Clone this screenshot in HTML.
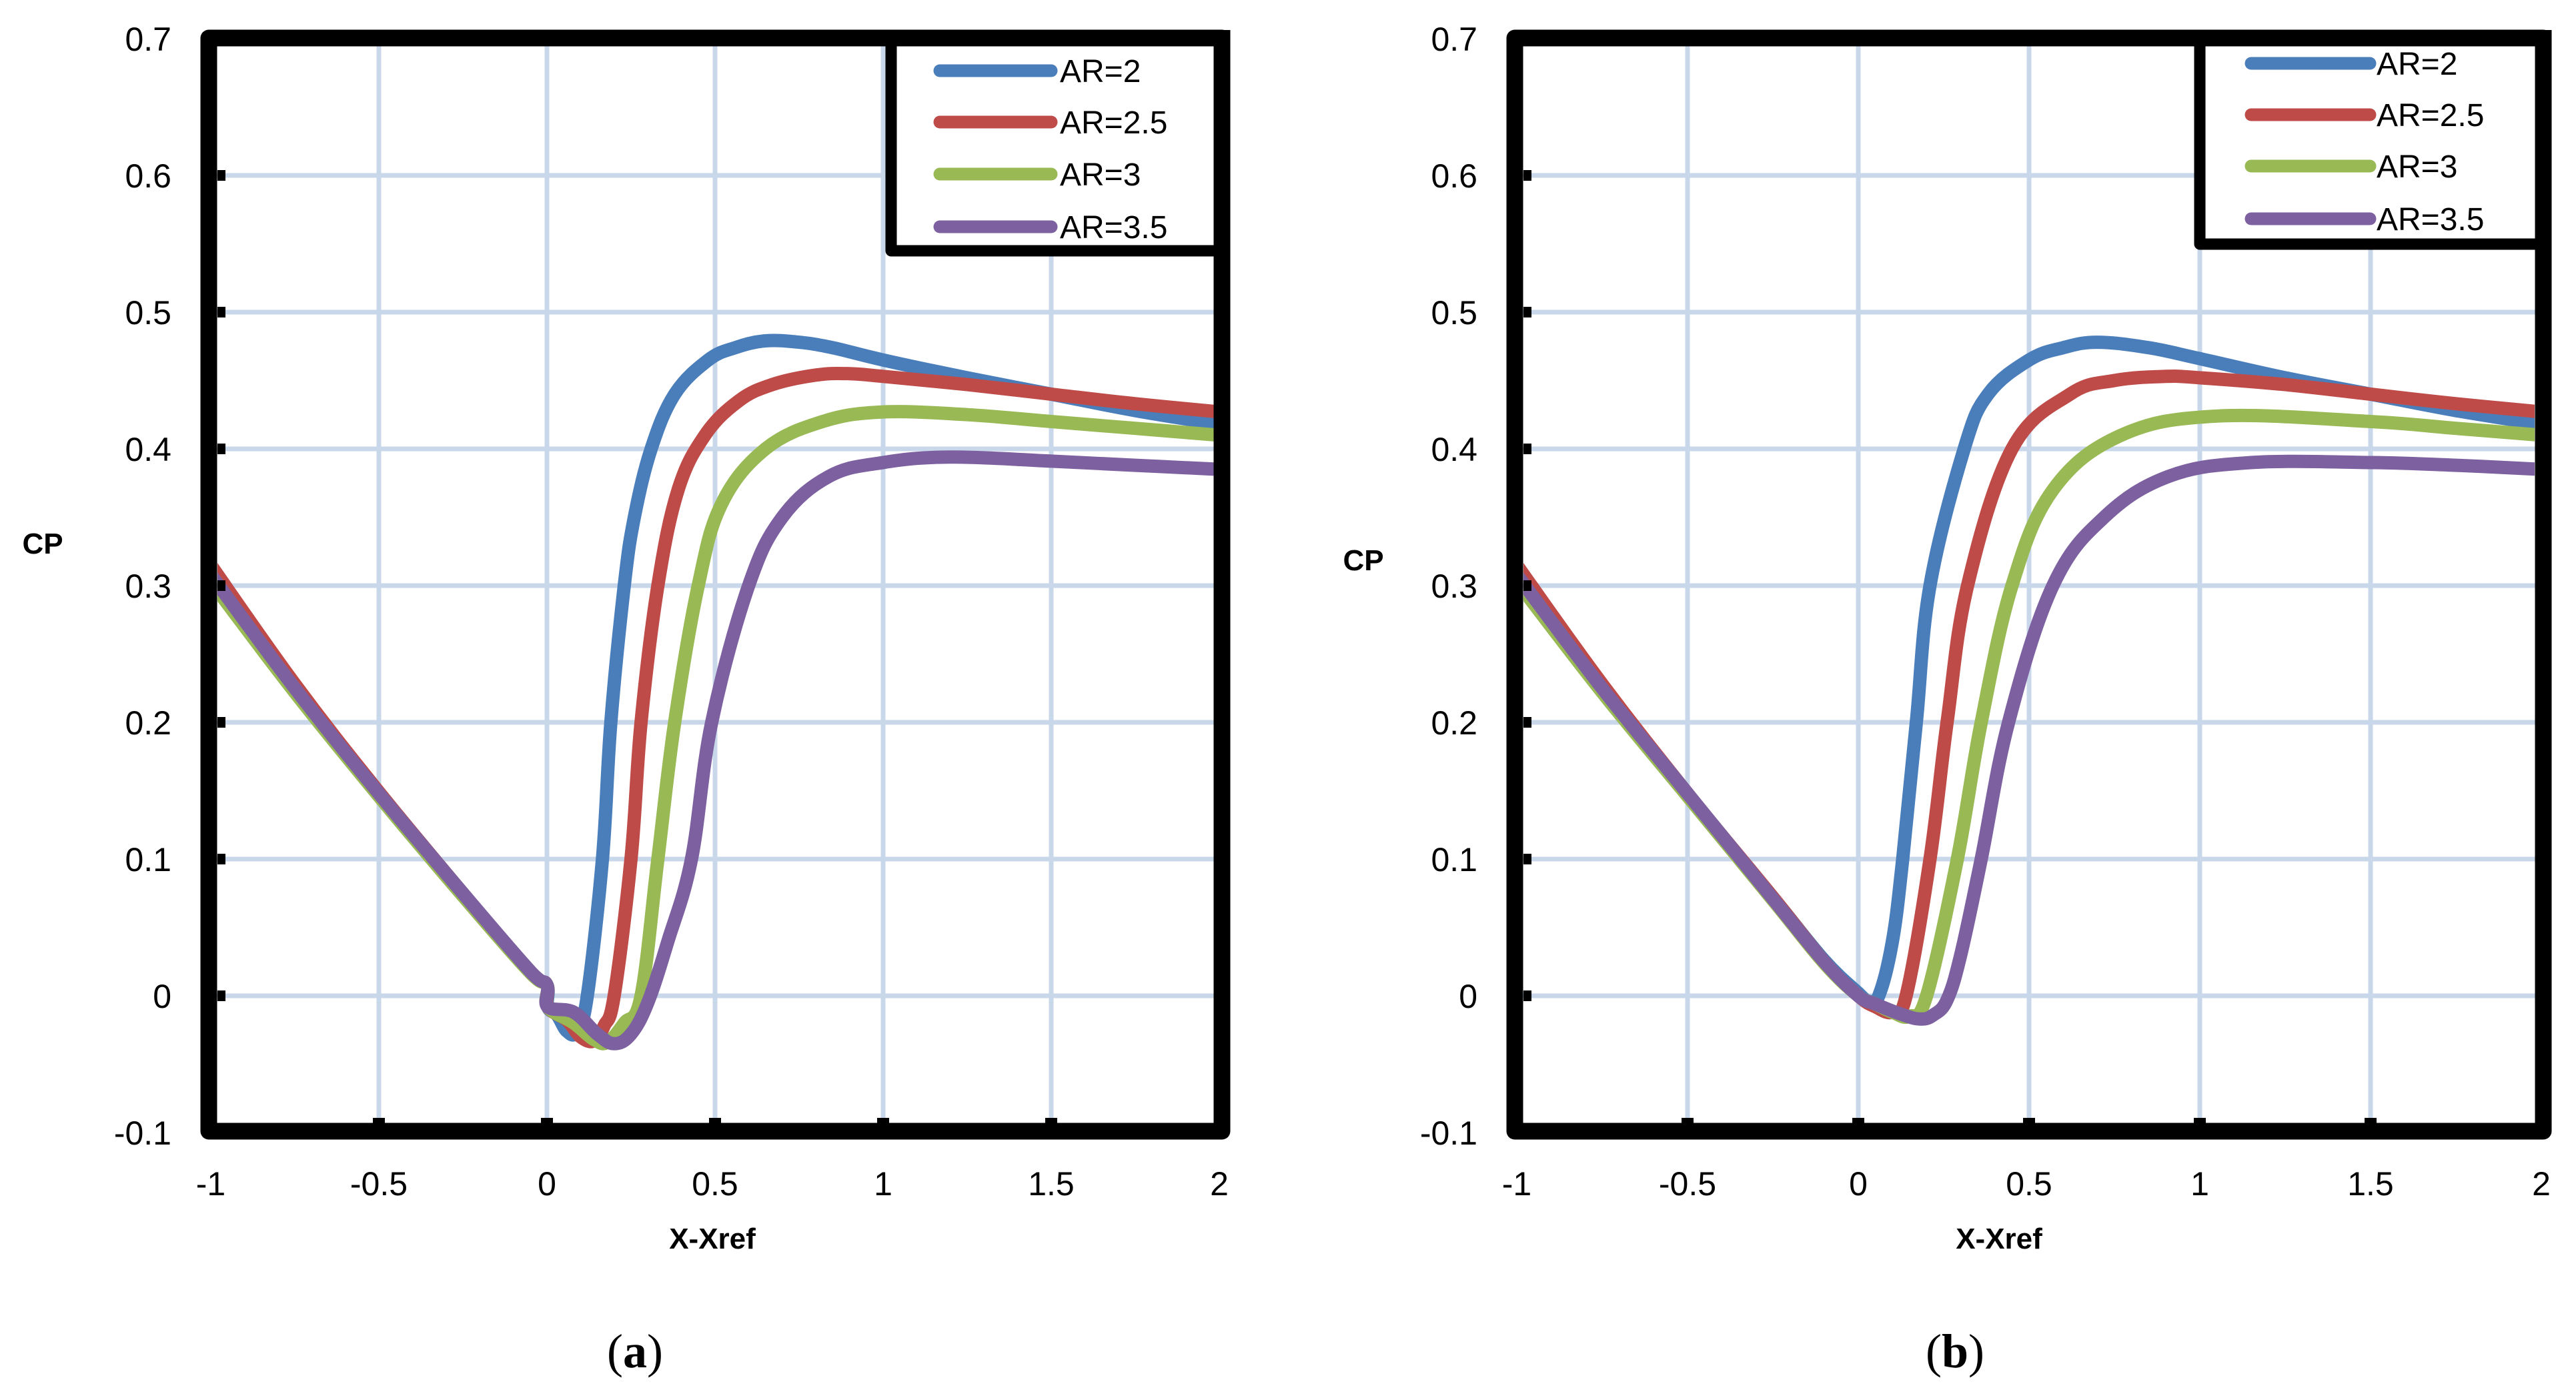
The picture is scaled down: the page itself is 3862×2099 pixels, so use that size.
<!DOCTYPE html>
<html><head><meta charset="utf-8"><style>
html,body{margin:0;padding:0;background:#fff;}
svg{display:block;}
text{font-family:"Liberation Sans",sans-serif;fill:#000;}
</style></head><body>
<svg id="fig" width="3862" height="2099" viewBox="0 0 3862 2099" xmlns="http://www.w3.org/2000/svg">
<rect width="3862" height="2099" fill="#fff"/>
<defs>
<clipPath id="clipA"><rect x="326" y="70" width="1494" height="1614"/></clipPath>
<clipPath id="clipB"><rect x="2284" y="70" width="1516" height="1614"/></clipPath>
</defs>
</svg>
<script>
const xTicks=[-1,-0.5,0,0.5,1,1.5,2];
const xTickLabels=["-1","-0.5","0","0.5","1","1.5","2"];
const yTicks=[-0.1,0,0.1,0.2,0.3,0.4,0.5,0.6,0.7];
const yTickLabels=["-0.1","0","0.1","0.2","0.3","0.4","0.5","0.6","0.7"];
const seriesNames=["AR=2","AR=2.5","AR=3","AR=3.5"];
const seriesColors=["#4a7ebb","#be4b48","#98b954","#7d60a0"];

// Chart (a)
const aX_AR2=[-1,-0.75,-0.5,-0.25,-0.05,0,0.002,0.03,0.06,0.09,0.12,0.165,0.19,0.23,0.26,0.31,0.38,0.48,0.56,0.65,0.75,0.85,1,1.25,1.5,1.75,2];
const aY_AR2=[0.312,0.227,0.149,0.075,0.018,0.008,-0.008,-0.014,-0.026,-0.026,0.0,0.1,0.2,0.3,0.35,0.4,0.44,0.465,0.474,0.479,0.478,0.474,0.465,0.452,0.44,0.428,0.418];
const aX_AR25=[-1,-0.75,-0.5,-0.25,-0.05,0,0.002,0.06,0.1,0.14,0.17,0.2,0.25,0.28,0.33,0.39,0.47,0.57,0.67,0.8,0.9,1,1.25,1.5,1.75,2];
const aY_AR25=[0.315,0.228,0.149,0.075,0.018,0.008,-0.008,-0.018,-0.03,-0.033,-0.022,0.0,0.1,0.2,0.3,0.37,0.41,0.435,0.447,0.454,0.455,0.453,0.447,0.44,0.433,0.427];
const aX_AR3=[-1,-0.75,-0.5,-0.25,-0.05,0,0.002,0.08,0.14,0.18,0.23,0.28,0.33,0.38,0.45,0.52,0.65,0.82,1,1.25,1.5,1.75,2];
const aY_AR3=[0.303,0.222,0.146,0.073,0.017,0.008,-0.008,-0.02,-0.032,-0.034,-0.02,0.0,0.1,0.2,0.3,0.36,0.4,0.42,0.427,0.425,0.42,0.415,0.41];
const aX_AR35=[-1,-0.75,-0.5,-0.25,-0.05,0,0.002,0.08,0.15,0.2,0.25,0.3,0.36,0.43,0.49,0.6,0.7,0.84,1,1.2,1.5,1.75,2];
const aY_AR35=[0.308,0.225,0.148,0.075,0.018,0.008,-0.008,-0.012,-0.028,-0.035,-0.028,-0.005,0.04,0.1,0.2,0.3,0.35,0.38,0.39,0.394,0.391,0.388,0.385];

// Chart (b)
const bX_AR2=[-1,-0.75,-0.5,-0.25,-0.1,0,0.03,0.06,0.1,0.13,0.17,0.21,0.31,0.38,0.5,0.6,0.7,0.85,1,1.25,1.5,1.75,2];
const bY_AR2=[0.312,0.227,0.148,0.072,0.026,0.002,-0.004,0.0,0.04,0.1,0.2,0.3,0.4,0.44,0.465,0.474,0.478,0.474,0.466,0.452,0.44,0.428,0.418];
const bX_AR25=[-1,-0.75,-0.5,-0.25,-0.1,0,0.05,0.1,0.14,0.21,0.26,0.32,0.45,0.62,0.75,0.9,1,1.25,1.5,1.75,2];
const bY_AR25=[0.315,0.228,0.148,0.072,0.025,0.0,-0.008,-0.012,0.0,0.1,0.2,0.3,0.4,0.44,0.45,0.453,0.452,0.447,0.44,0.433,0.427];
const bX_AR3=[-1,-0.75,-0.5,-0.25,-0.1,0,0.05,0.1,0.15,0.2,0.29,0.36,0.45,0.57,0.77,1.05,1.5,1.75,2];
const bY_AR3=[0.303,0.222,0.146,0.07,0.024,0.0,-0.006,-0.012,-0.015,0.0,0.1,0.2,0.3,0.37,0.41,0.424,0.42,0.415,0.41];
const bX_AR35=[-1,-0.75,-0.5,-0.25,-0.1,0,0.05,0.12,0.18,0.22,0.26,0.3,0.36,0.44,0.57,0.72,0.91,1.15,1.5,1.75,2];
const bY_AR35=[0.308,0.225,0.148,0.071,0.025,0.0,-0.006,-0.013,-0.017,-0.014,-0.003,0.03,0.1,0.2,0.3,0.35,0.38,0.39,0.39,0.388,0.385];

const NS="http://www.w3.org/2000/svg";
const svg=document.getElementById('fig');
function mk(tag,attrs,parent){const e=document.createElementNS(NS,tag);for(const k in attrs)e.setAttribute(k,attrs[k]);(parent||svg).appendChild(e);return e;}

function smoothPath(pts){
  let d='M'+pts[0][0].toFixed(1)+' '+pts[0][1].toFixed(1);
  for(let i=0;i<pts.length-1;i++){
    const p0=pts[Math.max(0,i-1)],p1=pts[i],p2=pts[i+1],p3=pts[Math.min(pts.length-1,i+2)];
    const t=0.18;
    const c1x=p1[0]+(p2[0]-p0[0])*t,c1y=p1[1]+(p2[1]-p0[1])*t;
    const c2x=p2[0]-(p3[0]-p1[0])*t,c2y=p2[1]-(p3[1]-p1[1])*t;
    d+=' C'+c1x.toFixed(1)+' '+c1y.toFixed(1)+' '+c2x.toFixed(1)+' '+c2y.toFixed(1)+' '+p2[0].toFixed(1)+' '+p2[1].toFixed(1);
  }
  return d;
}

function drawChart(cfg){
  const g=mk('g',{});
  
  
  const sx=v=>cfg.x0+(v-(-1))*(cfg.x1-cfg.x0)/3;
  const sy=v=>cfg.y0+(0.7-v)*(cfg.y1-cfg.y0)/0.8;
  const grid=mk('g',{},g);
  
  
  yTicks.forEach(v=>{
    if(v<=-0.1||v>=0.7)return;
    const l=mk('line',{x1:cfg.x0,x2:cfg.x1,y1:sy(v),y2:sy(v),stroke:'#c9d7ea','stroke-width':7},grid);
    
    
  });
  xTicks.forEach(v=>{
    if(v<=-1||v>=2)return;
    const l=mk('line',{x1:sx(v),x2:sx(v),y1:cfg.y0,y2:cfg.y1,stroke:'#c9d7ea','stroke-width':7},grid);
    
    
  });
  const sg=mk('g',{'clip-path':'url(#'+cfg.clip+')'},g);
  
  
  cfg.series.forEach((s,i)=>{
    const pts=s[0].map((x,k)=>[sx(x),sy(s[1][k])]);
    const p=mk('path',{d:smoothPath(pts),fill:'none',stroke:seriesColors[i],'stroke-width':20,'stroke-linejoin':'round','stroke-linecap':'round'},sg);
    
    
  });
  yTicks.forEach(v=>{
    if(v<=-0.1||v>=0.7)return;
    const t=mk('rect',{x:cfg.x0+10,y:sy(v)-8,width:12,height:16,fill:'#000'},g);
    
    
  });
  xTicks.forEach(v=>{
    if(v<=-1||v>=2)return;
    const t=mk('rect',{x:sx(v)-9,y:cfg.y1-22,width:18,height:12,fill:'#000'},g);
    
    
  });
  const b=mk('rect',{x:cfg.bx0,y:57,width:cfg.bx1-cfg.bx0,height:1639,fill:'none',stroke:'#000','stroke-width':25,'stroke-linejoin':'round'},g);
  
  
  yTicks.forEach((v,i)=>{
    const t=mk('text',{x:cfg.bx0-56,y:sy(v)+18,'font-size':50,'text-anchor':'end'},g);
    t.textContent=yTickLabels[i];
    
    
  });
  xTicks.forEach((v,i)=>{
    const t=mk('text',{x:sx(v),y:1792,'font-size':50,'text-anchor':'middle'},g);
    t.textContent=xTickLabels[i];
    
    
  });
  const yt=mk('text',{x:cfg.cpx,y:cfg.cpy,'font-size':44,'font-weight':'bold','text-anchor':'middle'},g);
  yt.textContent='CP';
  
  
  const xt=mk('text',{x:cfg.xtx,y:1872,'font-size':44,'font-weight':'bold','text-anchor':'middle'},g);
  xt.textContent='X-Xref';
  
  
  const cap=mk('text',{x:cfg.capx,y:2050,'font-size':72,'text-anchor':'middle',style:'font-family:"Liberation Serif",serif'},g);
  cap.innerHTML='(<tspan font-weight="bold">'+cfg.id+'</tspan>)';
  
  
  const lg=mk('g',{},g);
  
  
  const lb=mk('rect',{x:cfg.lx,y:57,width:cfg.bx1-cfg.lx,height:cfg.ly-57,fill:'#fff',stroke:'#000','stroke-width':17,'stroke-linejoin':'round'},lg);
  
  
  mk('line',{x1:cfg.lx-10,x2:cfg.bx1,y1:57,y2:57,stroke:'#000','stroke-width':25},lg);
  mk('line',{x1:cfg.bx1,x2:cfg.bx1,y1:45,y2:cfg.ly+8,stroke:'#000','stroke-width':25},lg);
  seriesNames.forEach((n,i)=>{
    const e=mk('g',{},lg);
    
    
    mk('line',{x1:cfg.llx0,x2:cfg.llx1,y1:cfg.rows[i],y2:cfg.rows[i],stroke:seriesColors[i],'stroke-width':19,'stroke-linecap':'round'},e);
    const t=mk('text',{x:cfg.ltx,y:cfg.rows[i]+17,'font-size':48},e);
    t.textContent=n;
  });
}

drawChart({id:'a',x0:316,x1:1828,y0:58,y1:1698,bx0:313,bx1:1832,clip:'clipA',
  series:[[aX_AR2,aY_AR2],[aX_AR25,aY_AR25],[aX_AR3,aY_AR3],[aX_AR35,aY_AR35]],
  cpx:64,cpy:830,xtx:1068,capx:952,lx:1336,ly:376,llx0:1409,llx1:1576,ltx:1589,rows:[106,183,261,340]});
drawChart({id:'b',x0:2274,x1:3810,y0:58,y1:1698,bx0:2271,bx1:3813,clip:'clipB',
  series:[[bX_AR2,bY_AR2],[bX_AR25,bY_AR25],[bX_AR3,bY_AR3],[bX_AR35,bY_AR35]],
  cpx:2044,cpy:855,xtx:2997,capx:2931,lx:3298,ly:366,llx0:3375,llx1:3553,ltx:3563,rows:[95,172,249,328]});
</script>
</body></html>
